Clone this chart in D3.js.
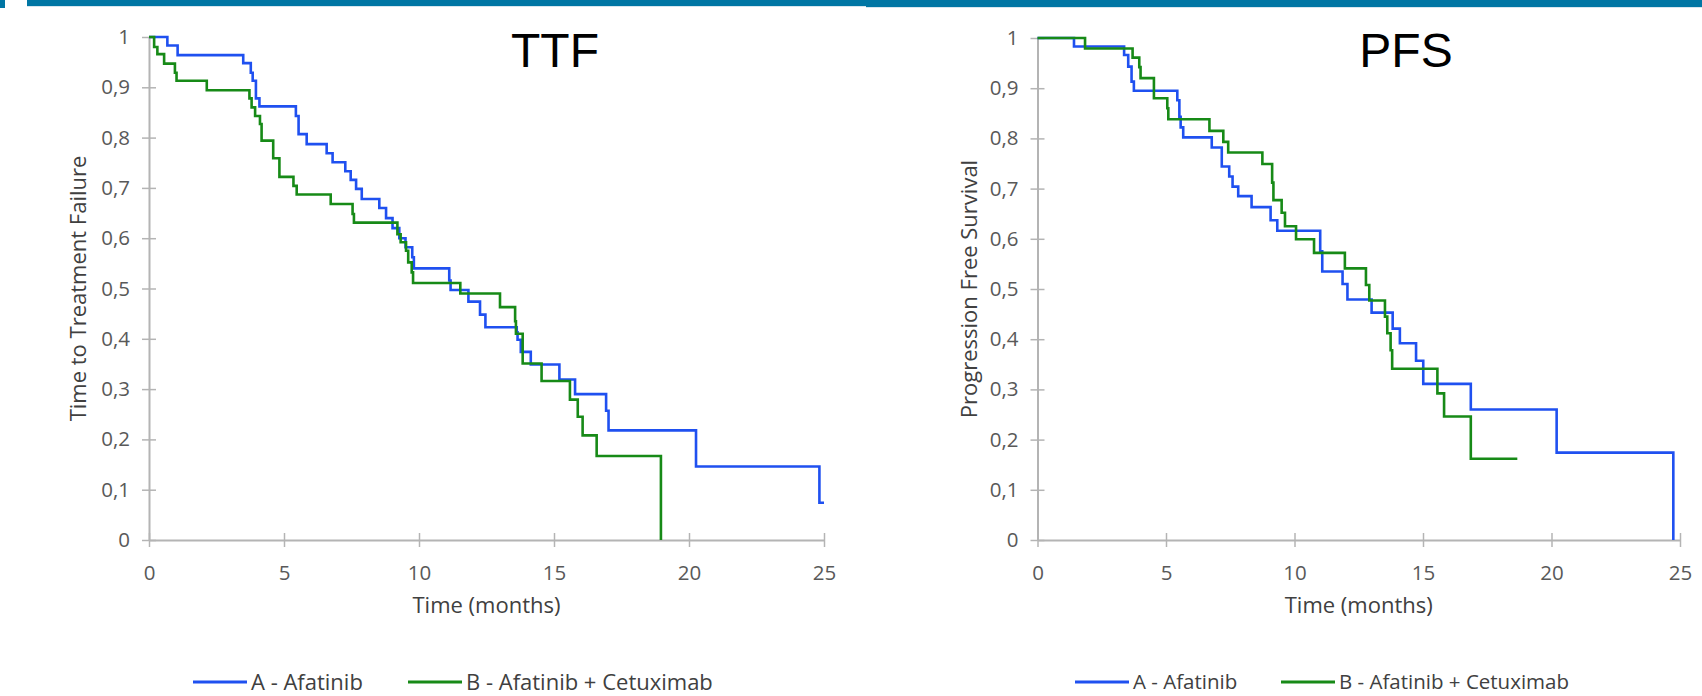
<!DOCTYPE html>
<html>
<head>
<meta charset="utf-8">
<script src="https://cdn.jsdelivr.net/npm/d3@7"></script>
<style>
  html, body { margin: 0; padding: 0; background: #fff; }
  svg { display: block; }
</style>
</head>
<body>
<svg id="chart" width="1702" height="696"></svg>
<script>
// ---------- DATA ----------
const xTicks = [0, 5, 10, 15, 20, 25];
const yTicks = [0, 0.1, 0.2, 0.3, 0.4, 0.5, 0.6, 0.7, 0.8, 0.9, 1];
const seriesNames = ["A - Afatinib", "B - Afatinib + Cetuximab"];
const panelTitles = ["TTF", "PFS"];
const yAxisTitles = ["Time to Treatment Failure", "Progression Free Survival"];
const xAxisTitle = "Time (months)";

// TTF, arm A (Afatinib)
const ttfTimeA = [0, 0.68, 1.06, 3.49, 3.77, 3.84, 3.96, 4.09, 5.44, 5.54, 5.84, 6.58, 6.80, 7.27, 7.47, 7.67, 7.88, 8.53, 8.78, 9.02, 9.27, 9.50, 9.75, 9.81, 11.12, 11.17, 11.83, 12.26, 12.46, 13.62, 13.65, 13.77, 14.14, 15.20, 15.78, 16.93, 17.02, 20.26, 24.83, 25.0];
const ttfSurvA = [1, 0.983, 0.964, 0.948, 0.929, 0.913, 0.878, 0.862, 0.843, 0.807, 0.787, 0.769, 0.751, 0.733, 0.716, 0.698, 0.678, 0.660, 0.640, 0.620, 0.600, 0.582, 0.562, 0.540, 0.516, 0.497, 0.474, 0.448, 0.423, 0.413, 0.398, 0.374, 0.349, 0.319, 0.290, 0.257, 0.218, 0.146, 0.074, 0.074];
// TTF, arm B (Afatinib + Cetuximab)
const ttfTimeB = [0, 0.19, 0.31, 0.56, 0.96, 1.02, 2.14, 3.72, 3.80, 3.93, 4.11, 4.17, 4.60, 4.83, 5.35, 5.47, 6.73, 7.54, 7.59, 9.20, 9.32, 9.52, 9.60, 9.73, 9.78, 11.53, 13.0, 13.56, 13.59, 13.84, 14.54, 15.59, 15.88, 16.06, 16.58, 18.96];
const ttfSurvB = [1, 0.980, 0.966, 0.947, 0.929, 0.913, 0.894, 0.878, 0.860, 0.843, 0.827, 0.794, 0.759, 0.722, 0.704, 0.687, 0.668, 0.648, 0.631, 0.608, 0.592, 0.575, 0.552, 0.532, 0.511, 0.490, 0.463, 0.435, 0.410, 0.351, 0.316, 0.279, 0.245, 0.208, 0.167, 0];

// PFS, arm A (Afatinib)
const pfsTimeA = [0, 1.42, 3.37, 3.53, 3.66, 3.75, 5.44, 5.52, 5.57, 5.67, 6.78, 7.17, 7.46, 7.59, 7.81, 8.33, 9.07, 9.33, 11.0, 11.08, 11.87, 12.06, 13.0, 13.82, 14.1, 14.73, 15.01, 16.86, 20.2, 24.74];
const pfsSurvA = [1, 0.983, 0.966, 0.943, 0.913, 0.895, 0.876, 0.843, 0.822, 0.802, 0.782, 0.744, 0.724, 0.704, 0.685, 0.663, 0.637, 0.616, 0.575, 0.535, 0.510, 0.479, 0.453, 0.421, 0.392, 0.357, 0.311, 0.260, 0.174, 0];
// PFS, arm B (Afatinib + Cetuximab)
const pfsTimeB = [0, 1.85, 3.70, 3.96, 4.01, 4.53, 5.05, 5.09, 6.69, 7.23, 7.42, 8.75, 9.13, 9.18, 9.50, 9.63, 10.06, 10.76, 11.96, 12.78, 12.91, 13.52, 13.61, 13.74, 13.80, 15.56, 15.82, 16.86, 18.67];
const pfsSurvB = [1, 0.979, 0.961, 0.942, 0.920, 0.880, 0.860, 0.838, 0.815, 0.793, 0.772, 0.749, 0.712, 0.677, 0.652, 0.625, 0.599, 0.572, 0.541, 0.508, 0.477, 0.445, 0.412, 0.378, 0.341, 0.292, 0.246, 0.162, 0.162];

// ---------- STYLE ----------
const colorA = "#1f50f0";
const colorB = "#178a17";
const axisColor = "#b4b4b4";
const tickTextColor = "#595959";
const titleTextColor = "#404040";
const uiFont = "'Open Sans', 'Noto Sans', sans-serif";

const svg = d3.select("#chart");

// top banner
svg.append("rect").attr("x", 0).attr("y", 0).attr("width", 5).attr("height", 8).attr("fill", "#0076a4");
svg.append("rect").attr("x", 27).attr("y", 0).attr("width", 839).attr("height", 6).attr("fill", "#0076a4");
svg.append("rect").attr("x", 27).attr("y", 6).attr("width", 839).attr("height", 1).attr("fill", "#d6e6ef");
svg.append("rect").attr("x", 866).attr("y", 0).attr("width", 836).attr("height", 7).attr("fill", "#0076a4");
svg.append("rect").attr("x", 866).attr("y", 7).attr("width", 836).attr("height", 1).attr("fill", "#d6e6ef");

const fmt = v => (v === 0 || v === 1) ? String(v) : d3.format(".1f")(v).replace(".", ",");

function drawPanel(p) {
  const x = d3.scaleLinear().domain([0, 25]).range([p.x0, p.x1]);
  const y = d3.scaleLinear().domain([0, 1]).range([p.y0, p.y1]);
  const g = svg.append("g");

  // y axis
  const yAx = g.append("g").attr("transform", `translate(${p.x0},0)`)
    .call(d3.axisLeft(y).tickValues(yTicks).tickFormat(fmt).tickSizeInner(7).tickSizeOuter(0).tickPadding(12));
  yAx.select(".domain").attr("stroke", axisColor).attr("stroke-width", 2);
  yAx.selectAll(".tick line").attr("stroke", axisColor).attr("stroke-width", 1.5).attr("x1", -7).attr("x2", 7);
  yAx.selectAll(".tick text").attr("fill", tickTextColor).style("font-family", uiFont).style("font-size", "20.5px");

  // x axis
  const xAx = g.append("g").attr("transform", `translate(0,${p.y0})`)
    .call(d3.axisBottom(x).tickValues(xTicks).tickFormat(d3.format("d")).tickSizeInner(7).tickSizeOuter(0).tickPadding(18));
  xAx.select(".domain").attr("stroke", axisColor).attr("stroke-width", 2);
  xAx.selectAll(".tick line").attr("stroke", axisColor).attr("stroke-width", 1.5).attr("y1", -7).attr("y2", 7);
  xAx.selectAll(".tick text").attr("fill", tickTextColor).style("font-family", uiFont).style("font-size", "20.5px");

  // curves
  const line = d3.line().x(d => x(d[0])).y(d => y(d[1])).curve(d3.curveStepAfter);
  p.series.forEach(s => {
    const pts = s.t.map((t, i) => [t, s.s[i]]);
    g.append("path").datum(pts).attr("d", line)
      .attr("fill", "none").attr("stroke", s.color).attr("stroke-width", 2.6)
      .attr("stroke-linejoin", "miter");
  });

  // panel title
  g.append("text").attr("x", p.titleX).attr("y", 67).attr("text-anchor", "middle")
    .style("font-family", "'Liberation Sans', Arial, sans-serif").style("font-size", "48px")
    .attr("fill", "#000").text(p.title);

  // axis titles
  g.append("text").attr("x", (p.x0 + p.x1) / 2).attr("y", 613).attr("text-anchor", "middle")
    .style("font-family", uiFont).style("font-size", "22px").attr("fill", titleTextColor).text(xAxisTitle);
  g.append("text").attr("transform", `translate(${p.yTitleX},${(p.y0 + p.y1) / 2}) rotate(-90)`)
    .attr("text-anchor", "middle").attr("dy", "0.35em")
    .style("font-family", uiFont).style("font-size", "22px").attr("fill", titleTextColor).text(p.yTitle);

  // legend
  p.legend.forEach((l, i) => {
    g.append("line").attr("x1", l.lx).attr("x2", l.lx + 54).attr("y1", 682).attr("y2", 682)
      .attr("stroke", p.series[i].color).attr("stroke-width", 3);
    g.append("text").attr("x", l.lx + 58).attr("y", 682).attr("dy", "0.35em")
      .style("font-family", uiFont).style("font-size", p.legendSize).attr("fill", titleTextColor).text(seriesNames[i]);
  });
}

drawPanel({
  x0: 149, x1: 824, y0: 540, y1: 37, titleX: 555, title: panelTitles[0],
  yTitle: yAxisTitles[0], yTitleX: 78, legendSize: "22px",
  series: [{ t: ttfTimeA, s: ttfSurvA, color: colorA }, { t: ttfTimeB, s: ttfSurvB, color: colorB }],
  legend: [{ lx: 193 }, { lx: 408 }]
});
drawPanel({
  x0: 1037.5, x1: 1680, y0: 540, y1: 38, titleX: 1406, title: panelTitles[1],
  yTitle: yAxisTitles[1], yTitleX: 969, legendSize: "20.5px",
  series: [{ t: pfsTimeA, s: pfsSurvA, color: colorA }, { t: pfsTimeB, s: pfsSurvB, color: colorB }],
  legend: [{ lx: 1075 }, { lx: 1281 }]
});
</script>
</body>
</html>
